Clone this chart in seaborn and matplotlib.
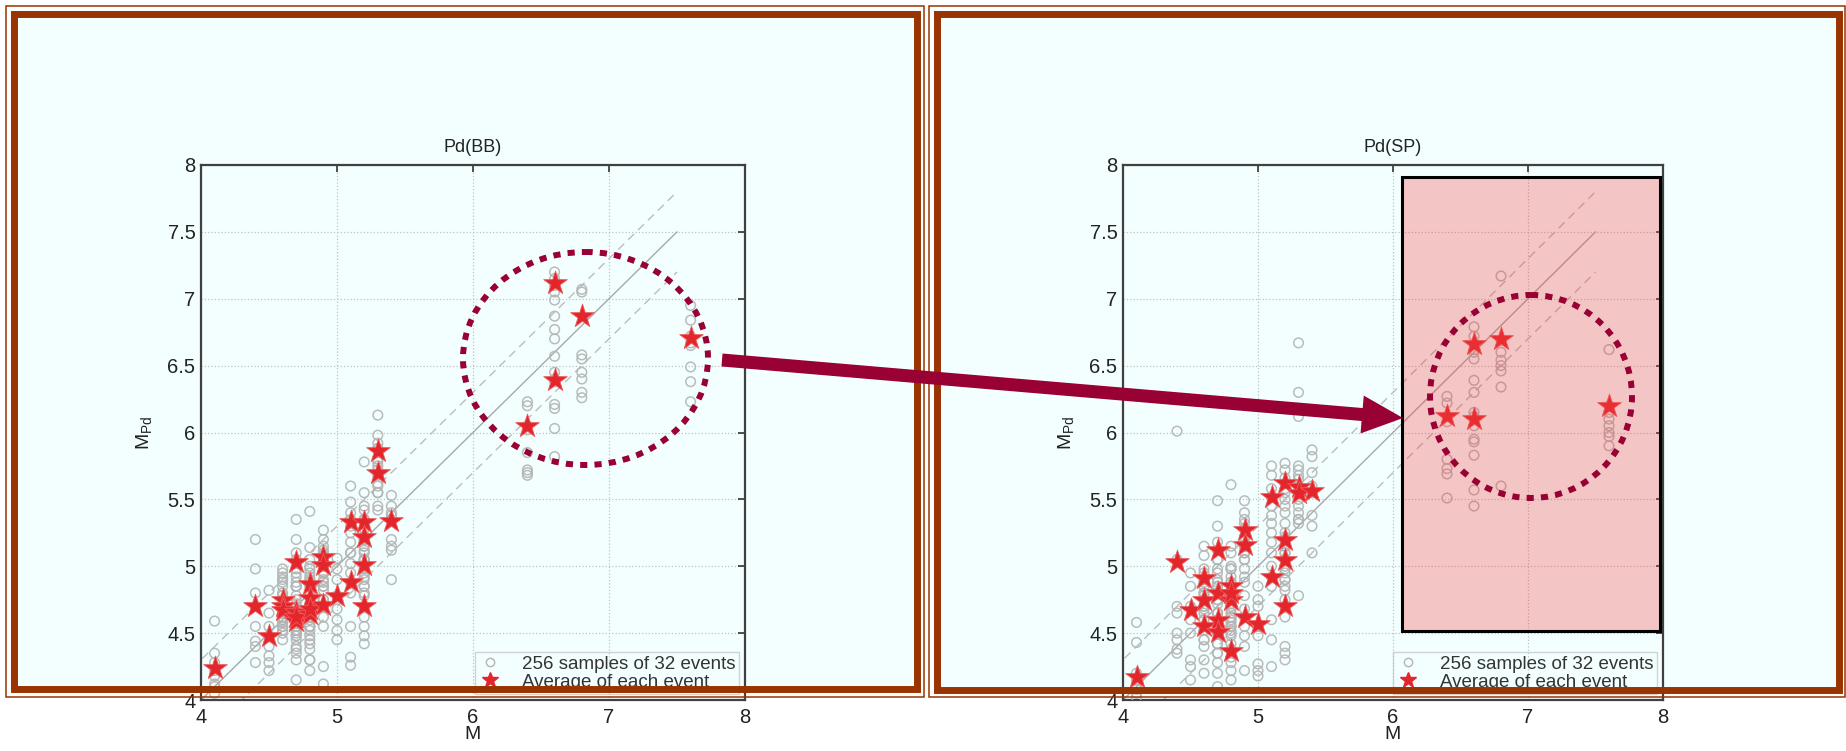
import numpy as np
import pandas as pd
import matplotlib
matplotlib.use('Agg')
import matplotlib.pyplot as plt
from matplotlib.patches import Rectangle, Ellipse, FancyArrow
from matplotlib.lines import Line2D
from matplotlib.ticker import FormatStrFormatter, MultipleLocator
import seaborn as sns

# magnitude of each of the 32 events
event_m = [4.1, 4.4, 4.5, 4.6, 4.6, 4.6, 4.7, 4.7, 4.7, 4.7, 4.8, 4.8, 4.8, 4.8,
           4.9, 4.9, 4.9, 5.0, 5.1, 5.1, 5.2, 5.2, 5.2, 5.2, 5.3, 5.3, 5.4,
           6.4, 6.6, 6.6, 6.8, 7.6]

# averages of each event (red stars)
bb_avg = [4.24, 4.70, 4.48, 4.75, 4.70, 4.67, 5.03, 4.66, 4.59, 4.62, 4.87, 4.76, 4.64, 4.68,
          5.07, 5.01, 4.71, 4.78, 5.33, 4.88, 5.33, 5.22, 5.01, 4.70, 5.86, 5.70, 5.34,
          6.05, 7.12, 6.39, 6.87, 6.71]
sp_avg = [4.17, 5.03, 4.67, 4.91, 4.75, 4.55, 5.12, 4.80, 4.60, 4.51, 4.85, 4.75, 4.37, 4.80,
          5.27, 5.16, 4.62, 4.57, 5.52, 4.92, 5.62, 5.20, 5.05, 4.70, 5.59, 5.55, 5.56,
          6.12, 6.66, 6.10, 6.70, 6.20]

# 8 samples per event (grey circles)
bb_samples = [
    [4.59, 4.35, 4.28, 4.22, 4.18, 4.12, 4.10, 4.05],
    [5.20, 4.98, 4.80, 4.70, 4.55, 4.44, 4.40, 4.28],
    [4.82, 4.65, 4.55, 4.48, 4.40, 4.33, 4.28, 4.22],
    [4.98, 4.92, 4.85, 4.78, 4.70, 4.62, 4.58, 4.55],
    [4.95, 4.88, 4.75, 4.70, 4.62, 4.58, 4.52, 4.60],
    [4.90, 4.80, 4.72, 4.66, 4.60, 4.55, 4.50, 4.45],
    [5.35, 5.20, 5.10, 5.05, 4.98, 4.92, 4.85, 4.78],
    [4.95, 4.85, 4.72, 4.65, 4.58, 4.52, 4.48, 4.50],
    [4.88, 4.70, 4.62, 4.55, 4.48, 4.40, 4.35, 4.30],
    [4.85, 4.75, 4.65, 4.60, 4.52, 4.45, 4.38, 4.15],
    [5.41, 5.14, 5.00, 4.90, 4.80, 4.68, 4.55, 4.48],
    [5.05, 4.95, 4.85, 4.78, 4.70, 4.60, 4.52, 4.62],
    [4.92, 4.80, 4.70, 4.62, 4.55, 4.45, 4.38, 4.30],
    [4.98, 4.88, 4.72, 4.66, 4.55, 4.42, 4.30, 4.22],
    [5.27, 5.20, 5.12, 5.08, 5.02, 4.96, 4.90, 4.85],
    [5.15, 5.10, 5.05, 5.00, 4.95, 4.88, 4.82, 4.75],
    [4.95, 4.85, 4.75, 4.70, 4.62, 4.55, 4.25, 4.12],
    [5.06, 4.98, 4.90, 4.78, 4.68, 4.60, 4.52, 4.45],
    [5.60, 5.48, 5.40, 5.35, 5.30, 5.25, 5.18, 5.10],
    [5.10, 5.02, 4.95, 4.88, 4.80, 4.55, 4.32, 4.26],
    [5.78, 5.55, 5.42, 5.35, 5.28, 5.20, 5.15, 5.05],
    [5.45, 5.35, 5.28, 5.22, 5.15, 5.10, 5.05, 4.98],
    [5.20, 5.12, 5.05, 5.00, 4.95, 4.90, 4.85, 4.80],
    [4.92, 4.85, 4.78, 4.70, 4.62, 4.55, 4.48, 4.42],
    [6.13, 5.98, 5.92, 5.88, 5.80, 5.75, 5.60, 5.55],
    [5.88, 5.78, 5.72, 5.68, 5.62, 5.55, 5.45, 5.42],
    [5.53, 5.45, 5.38, 5.20, 5.15, 5.12, 5.40, 4.90],
    [6.23, 6.20, 6.05, 6.02, 5.85, 5.72, 5.70, 5.68],
    [7.20, 7.15, 7.10, 7.05, 6.99, 6.87, 6.77, 6.70],
    [6.57, 6.45, 6.40, 6.38, 6.21, 6.18, 6.03, 5.82],
    [7.07, 7.05, 6.58, 6.55, 6.45, 6.40, 6.30, 6.26],
    [6.95, 6.84, 6.72, 6.67, 6.65, 6.49, 6.38, 6.23],
]
sp_samples = [
    [4.58, 4.43, 4.20, 4.15, 4.10, 4.08, 4.05, 4.02],
    [6.01, 5.05, 4.70, 4.65, 4.50, 4.45, 4.38, 4.35],
    [4.95, 4.85, 4.70, 4.60, 4.50, 4.30, 4.25, 4.15],
    [5.15, 5.08, 4.98, 4.90, 4.85, 4.78, 4.70, 4.65],
    [4.95, 4.88, 4.80, 4.75, 4.68, 4.60, 4.52, 4.45],
    [4.80, 4.70, 4.60, 4.55, 4.45, 4.40, 4.30, 4.20],
    [5.49, 5.30, 5.18, 5.12, 5.05, 4.98, 4.90, 4.85],
    [5.05, 4.95, 4.88, 4.80, 4.72, 4.65, 4.60, 4.55],
    [4.85, 4.75, 4.65, 4.58, 4.50, 4.42, 4.35, 4.28],
    [4.75, 4.65, 4.55, 4.50, 4.42, 4.35, 4.20, 4.10],
    [5.61, 5.15, 4.98, 4.88, 4.80, 4.70, 4.62, 4.55],
    [5.00, 4.92, 4.82, 4.75, 4.68, 4.60, 4.55, 4.48],
    [4.62, 4.52, 4.42, 4.38, 4.32, 4.28, 4.22, 4.15],
    [5.10, 4.98, 4.88, 4.80, 4.72, 4.65, 4.58, 4.50],
    [5.49, 5.40, 5.32, 5.28, 5.22, 5.15, 5.10, 5.05],
    [5.35, 5.28, 5.20, 5.15, 5.10, 5.05, 4.98, 4.92],
    [4.88, 4.78, 4.68, 4.62, 4.55, 4.48, 4.40, 4.22],
    [4.85, 4.75, 4.70, 4.55, 4.48, 4.27, 4.22, 4.18],
    [5.75, 5.68, 5.58, 5.52, 5.45, 5.38, 5.32, 5.25],
    [5.18, 5.10, 5.00, 4.92, 4.85, 4.60, 4.45, 4.25],
    [5.77, 5.72, 5.66, 5.62, 5.58, 5.55, 5.50, 5.45],
    [5.40, 5.32, 5.25, 5.20, 5.15, 5.10, 5.05, 4.98],
    [5.22, 5.15, 5.10, 5.05, 5.00, 4.95, 4.90, 4.85],
    [4.90, 4.82, 4.75, 4.70, 4.62, 4.40, 4.35, 4.30],
    [6.67, 6.30, 6.12, 5.72, 5.65, 5.35, 5.32, 4.78],
    [5.75, 5.68, 5.60, 5.55, 5.50, 5.45, 5.40, 5.35],
    [5.87, 5.82, 5.55, 5.38, 5.30, 5.10, 5.60, 5.70],
    [6.27, 6.22, 6.12, 6.08, 5.80, 5.73, 5.69, 5.51],
    [6.79, 6.72, 6.66, 6.62, 6.60, 6.55, 6.39, 6.30],
    [6.15, 6.12, 6.05, 5.95, 5.93, 5.83, 5.57, 5.45],
    [7.17, 6.69, 6.60, 6.54, 6.50, 6.46, 6.34, 5.60],
    [6.62, 6.20, 6.15, 6.10, 6.05, 6.00, 5.97, 5.90],
]

titles = ['Pd(BB)', 'Pd(SP)']
legend_labels = ['256 samples of 32 events', 'Average of each event']
ref_x = [3.5, 7.5]
ref_offsets = [0.0, 0.3, -0.3]

sns.set_theme(style='white')
plt.rcParams['font.family'] = ['Liberation Sans', 'DejaVu Sans']
plt.rcParams['mathtext.fontset'] = 'custom'
plt.rcParams['mathtext.rm'] = 'Liberation Sans'

W, H = 1846, 751
fig = plt.figure(figsize=(W / 100, H / 100), dpi=100)
fig.patch.set_facecolor('white')

AZURE = '#F3FFFF'
BROWN = '#993300'
MAROON = '#990033'
GREY = '#b4b4b4'

# background layer (frame fills)
bg = fig.add_axes([0, 0, 1, 1], zorder=-1)
bg.set_xlim(0, W)
bg.set_ylim(H, 0)
bg.axis('off')
for x0, x1 in [(11, 920), (933, 1842)]:
    bg.add_patch(Rectangle((x0, 10), x1 - x0, 683, facecolor=AZURE, edgecolor='none'))


def px_axes(x0, y0, x1, y1, **kw):
    return fig.add_axes([x0 / W, 1 - y1 / H, (x1 - x0) / W, (y1 - y0) / H], **kw)


axes = [px_axes(201, 165, 745, 700, zorder=1), px_axes(1123, 165, 1663, 700, zorder=1)]
panels = [(bb_avg, bb_samples), (sp_avg, sp_samples)]

for ax, title, (avg, samples) in zip(axes, titles, panels):
    ax.set_facecolor('none')
    df = pd.DataFrame({'M': event_m, 'Mpd': samples}).explode('Mpd')
    df['Mpd'] = df['Mpd'].astype(float)

    for off in ref_offsets:
        ax.plot(ref_x, [v + off for v in ref_x], color='#a8a8a8' if off == 0 else '#bcbcbc',
                lw=1.0, ls='-' if off == 0 else (0, (6, 4)), zorder=2)

    sns.scatterplot(data=df, x='M', y='Mpd', ax=ax, marker='o', s=48,
                    color=GREY, edgecolor=GREY, linewidth=1.1, alpha=0.9, legend=False, zorder=3)
    ax.collections[-1].set_facecolor('none')
    sns.scatterplot(x=event_m, y=avg, ax=ax, marker='*', s=320, color='#e3262c',
                    edgecolor='#ee5a5a', linewidth=0.6, legend=False, zorder=4)

    ax.set_xlim(4, 8)
    ax.set_ylim(4, 8)
    ax.xaxis.set_major_locator(MultipleLocator(1))
    ax.yaxis.set_major_locator(MultipleLocator(0.5))
    ax.yaxis.set_major_formatter(FormatStrFormatter('%g'))
    ax.grid(True, ls=':', color='#c0c0c0', lw=0.9)
    ax.tick_params(direction='in', top=True, right=True, length=5, width=1.2,
                   colors='#333333', labelsize=14.5, labelcolor='#222222')
    ax.tick_params(axis='x', pad=6)
    ax.tick_params(axis='y', pad=4)
    for sp in ax.spines.values():
        sp.set_color('#404040')
        sp.set_linewidth(1.6)
    ax.set_title(title, fontsize=13, color='#222222', pad=9)
    ax.set_xlabel('M', fontsize=14, color='#222222', labelpad=-1)
    ax.set_ylabel(r'$\mathregular{M_{Pd}}$', fontsize=14, color='#222222', labelpad=10)

    handles = [Line2D([], [], marker='o', ls='none', mfc='none', mec=GREY, ms=6, mew=1),
               Line2D([], [], marker='*', ls='none', color='#e3262c', ms=12)]
    leg = ax.legend(handles, legend_labels, loc='lower right', frameon=True, fancybox=False,
                    fontsize=13.5, handlelength=1.2, handletextpad=1.1, labelspacing=0.05,
                    borderpad=0.2, borderaxespad=0.3)
    leg.get_frame().set_edgecolor('#c8c8c8')
    leg.get_frame().set_facecolor('none')
    leg.get_frame().set_linewidth(1.0)
    for t in leg.get_texts():
        t.set_color('#333333')

# overlay layer: frame borders, highlight box, circles, arrow
ov = fig.add_axes([0, 0, 1, 1], zorder=5)
ov.set_facecolor('none')
ov.set_xlim(0, W)
ov.set_ylim(H, 0)
ov.axis('off')

for (tx0, tx1, ty1), (ox0, ox1, oy1) in [((14, 916.5, 689), (5.5, 924, 696.5)),
                                         ((936.5, 1838.5, 689.5), (929, 1845, 697))]:
    ov.add_patch(Rectangle((tx0, 13.5), tx1 - tx0, ty1 - 13.5, fill=False,
                           edgecolor=BROWN, lw=5.0, joinstyle='miter'))
    ov.add_patch(Rectangle((ox0, 5.5), ox1 - ox0, oy1 - 5.5, fill=False,
                           edgecolor=BROWN, lw=1.1, joinstyle='miter'))

ov.add_patch(Rectangle((1402, 177), 258, 454, facecolor=(0.965, 0.255, 0.255, 0.30),
                       edgecolor='black', lw=2.2, joinstyle='miter'))

for cx, cy, w, h in [(585.5, 358.5, 245, 213), (1531, 396.5, 202, 203)]:
    ov.add_patch(Ellipse((cx, cy), w, h, fill=False, edgecolor=MAROON, lw=4.3,
                         ls=(0, (1.2, 1.2)), capstyle='butt'))

ov.add_patch(FancyArrow(722, 360, 681, 58, width=13, head_width=38, head_length=41,
                        length_includes_head=True, color=MAROON, lw=0))

fig.savefig('out.png', dpi=100, facecolor='white')
